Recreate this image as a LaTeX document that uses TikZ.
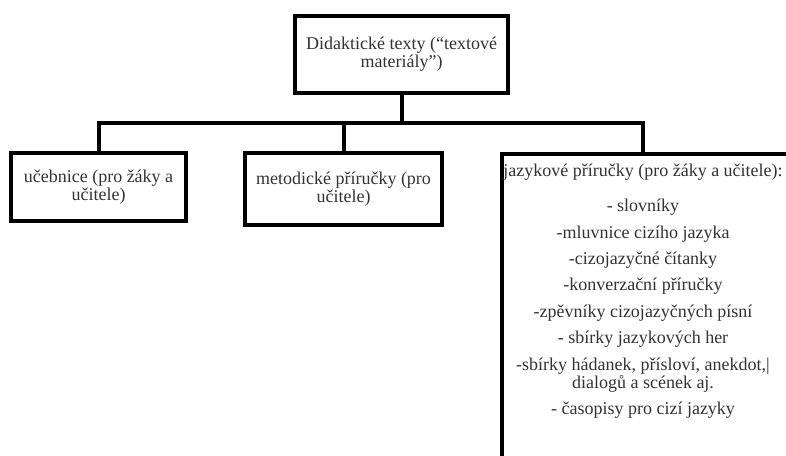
\documentclass[tikz,border=0pt]{standalone}
\usepackage{fontspec}
\setmainfont{Liberation Serif}
\usetikzlibrary{positioning}
\definecolor{ink}{HTML}{333333}

\begin{document}
\begin{tikzpicture}[x=0.75pt,y=-0.75pt,
  font=\fontsize{13.5}{13.5}\selectfont,
  box/.style={draw=black,line width=3pt,align=center,inner sep=0pt,text=ink},
  link/.style={draw=black,line width=3pt}]
\useasboundingbox[fill=white] (0,0) rectangle (786,456);
\node[box,minimum width=159.75pt,minimum height=57.75pt] (top) at (401.5,54.5) {Didaktické texty (“textové\\materiály”)};
\node[box,minimum width=131.25pt,minimum height=51pt] (ucb) at (98.5,187) {učebnice (pro žáky a\\učitele)};
\node[box,minimum width=147.75pt,minimum height=54pt] (met) at (343.5,189) {metodické příručky (pro\\učitele)};
\node[box,anchor=north west,minimum width=247.5pt,minimum height=277.5pt] (jaz) at (500,152) {};
\node[align=center,anchor=north,inner sep=0pt,text=ink] (jaztext) at (643,164) {jazykové příručky (pro žáky a učitele):\\[12.75pt]
- slovníky\\[6.3pt]
-mluvnice cizího jazyka\\[6.3pt]
-cizojazyčné čítanky\\[6.3pt]
-konverzační příručky\\[6.3pt]
-zpěvníky cizojazyčných písní\\[6.3pt]
- sbírky jazykových her\\[6.3pt]
-sbírky hádanek, přísloví, anekdot,|\\
dialogů a scének aj.\\[6.3pt]
- časopisy pro cizí jazyky};
\coordinate (bary) at (0,123);
\coordinate (jazin) at (643,152);
\draw[link] (top.south) -- (top.south |- bary);
\draw[link] (ucb.north) |- (jazin |- bary) -- (jazin);
\draw[link] (met.north) -- (met.north |- bary);
\end{tikzpicture}
\end{document}
